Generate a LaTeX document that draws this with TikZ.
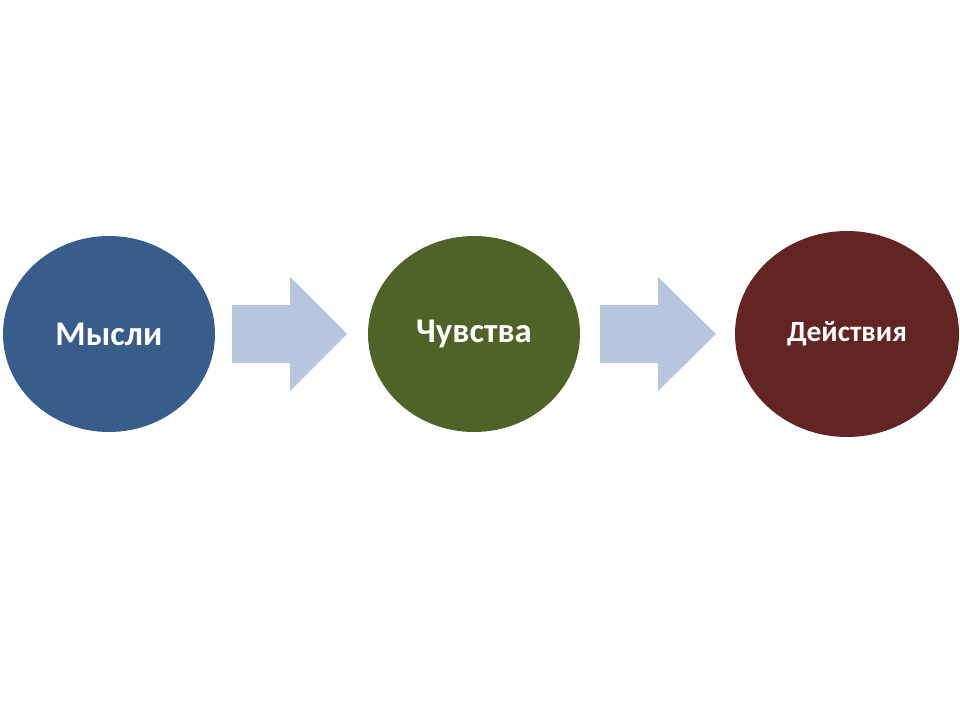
\documentclass[tikz,border=0pt]{standalone}
\usepackage{fontspec}
\setmainfont{Carlito}
\usetikzlibrary{shapes.geometric}
\definecolor{cblue}{HTML}{385D8A}
\definecolor{cgreen}{HTML}{4F6228}
\definecolor{cred}{HTML}{632523}
\definecolor{carrow}{HTML}{B7C6DE}
\begin{document}
\begin{tikzpicture}[x=0.75pt,y=-0.75pt]
\tikzset{circ/.style={ellipse,draw=none,text=white,font=\bfseries},
 arr/.style={fill=carrow,draw=none}}
\useasboundingbox (0,0) rectangle (960,720);
\node[circ,fill=cblue,minimum width=212*0.75pt,minimum height=196*0.75pt,font=\bfseries\fontsize{26}{30}\selectfont] (a) at (109,334) {Мысли};
\node[circ,fill=cgreen,minimum width=212*0.75pt,minimum height=196*0.75pt,font=\bfseries\fontsize{26}{30}\selectfont] (b) at (474,334) {Чувства};
\node[circ,fill=cred,minimum width=224*0.75pt,minimum height=206*0.75pt,font=\bfseries\fontsize{22}{26}\selectfont] (c) at (847,334) {Действия};
\coordinate (a1) at (232,334);
\coordinate (a2) at (600,334);
\fill[arr] (a1) ++(0,-29) -- ++(58,0) -- ++(0,-28) -- ++(57,57) -- ++(-57,57) -- ++(0,-28) -- ++(-58,0) -- cycle;
\fill[arr] (a2) ++(0,-29) -- ++(58,0) -- ++(0,-28) -- ++(58,57) -- ++(-58,57) -- ++(0,-28) -- ++(-58,0) -- cycle;
\end{tikzpicture}
\end{document}
